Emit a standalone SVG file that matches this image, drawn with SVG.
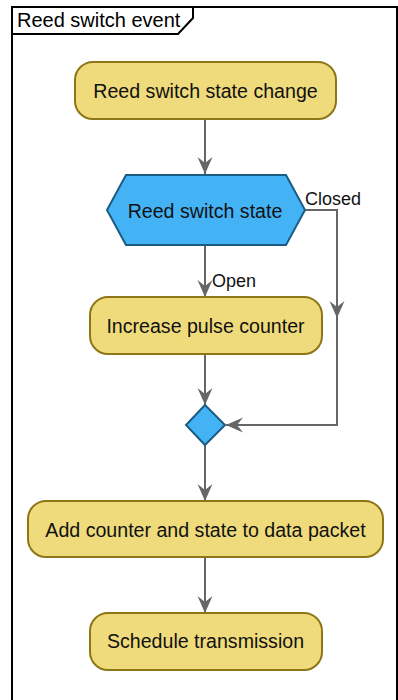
<svg xmlns="http://www.w3.org/2000/svg" width="398" height="700" viewBox="0 0 398 700">
<style>
.frame{fill:none;stroke:#000;stroke-width:2}
.act{fill:#EFDB7B;stroke:#8E7618;stroke-width:2}
.dec{fill:#44B3F5;stroke:#1C5C84;stroke-width:2}
.t{font-family:"Liberation Sans",Arial,sans-serif;font-size:19.6px;fill:#111;text-anchor:middle}
.title{font-family:"Liberation Sans",Arial,sans-serif;font-size:20px;fill:#000}
.lbl{font-family:"Liberation Sans",Arial,sans-serif;font-size:18px;fill:#111}
.c{fill:none;stroke:#666;stroke-width:2}
</style>
<defs>
<marker id="ah" markerUnits="userSpaceOnUse" markerWidth="20" markerHeight="20" refX="17" refY="8" orient="auto" overflow="visible">
<polygon points="17,8 0,0.5 6,8 0,15.5" fill="#666"/>
</marker>
</defs>
<g id="frame">
<rect x="12" y="7" width="385" height="700" class="frame"/>
<polyline points="12,34 178,34 193,18 193,7" class="frame"/>
<text x="17" y="27" class="title">Reed switch event</text>
</g>
<g id="connectors">
<line x1="205" y1="119" x2="205" y2="174" class="c" marker-end="url(#ah)"/>
<line x1="205" y1="245" x2="205" y2="297" class="c" marker-end="url(#ah)"/>
<polyline points="305,210 337,210 337,318" class="c" marker-end="url(#ah)"/>
<polyline points="337,300 337,425 226,425" class="c" marker-end="url(#ah)"/>
<line x1="205" y1="354" x2="205" y2="405" class="c" marker-end="url(#ah)"/>
<line x1="205" y1="445" x2="205" y2="501" class="c" marker-end="url(#ah)"/>
<line x1="205" y1="557" x2="205" y2="613" class="c" marker-end="url(#ah)"/>
<text x="212" y="287" class="lbl">Open</text>
<text x="305" y="205" class="lbl">Closed</text>
</g>
<g id="n1">
<rect x="75" y="62" width="261" height="57" rx="18" class="act"/>
<text x="205.5" y="98" class="t">Reed switch state change</text>
</g>
<g id="n2">
<polygon points="107,210 126,175 286,175 305,210 286,245 126,245" class="dec"/>
<text x="205" y="218" class="t">Reed switch state</text>
</g>
<g id="n3">
<rect x="90" y="297" width="232" height="57" rx="18" class="act"/>
<text x="205.5" y="333" class="t">Increase pulse counter</text>
</g>
<g id="n4">
<polygon points="205,405 225,425 205,445 186,425" class="dec"/>
</g>
<g id="n5">
<rect x="28" y="501" width="355" height="56" rx="18" class="act"/>
<text x="205.5" y="537" class="t">Add counter and state to data packet</text>
</g>
<g id="n6">
<rect x="90" y="613" width="232" height="57" rx="18" class="act"/>
<text x="205.5" y="648" class="t">Schedule transmission</text>
</g>
</svg>
